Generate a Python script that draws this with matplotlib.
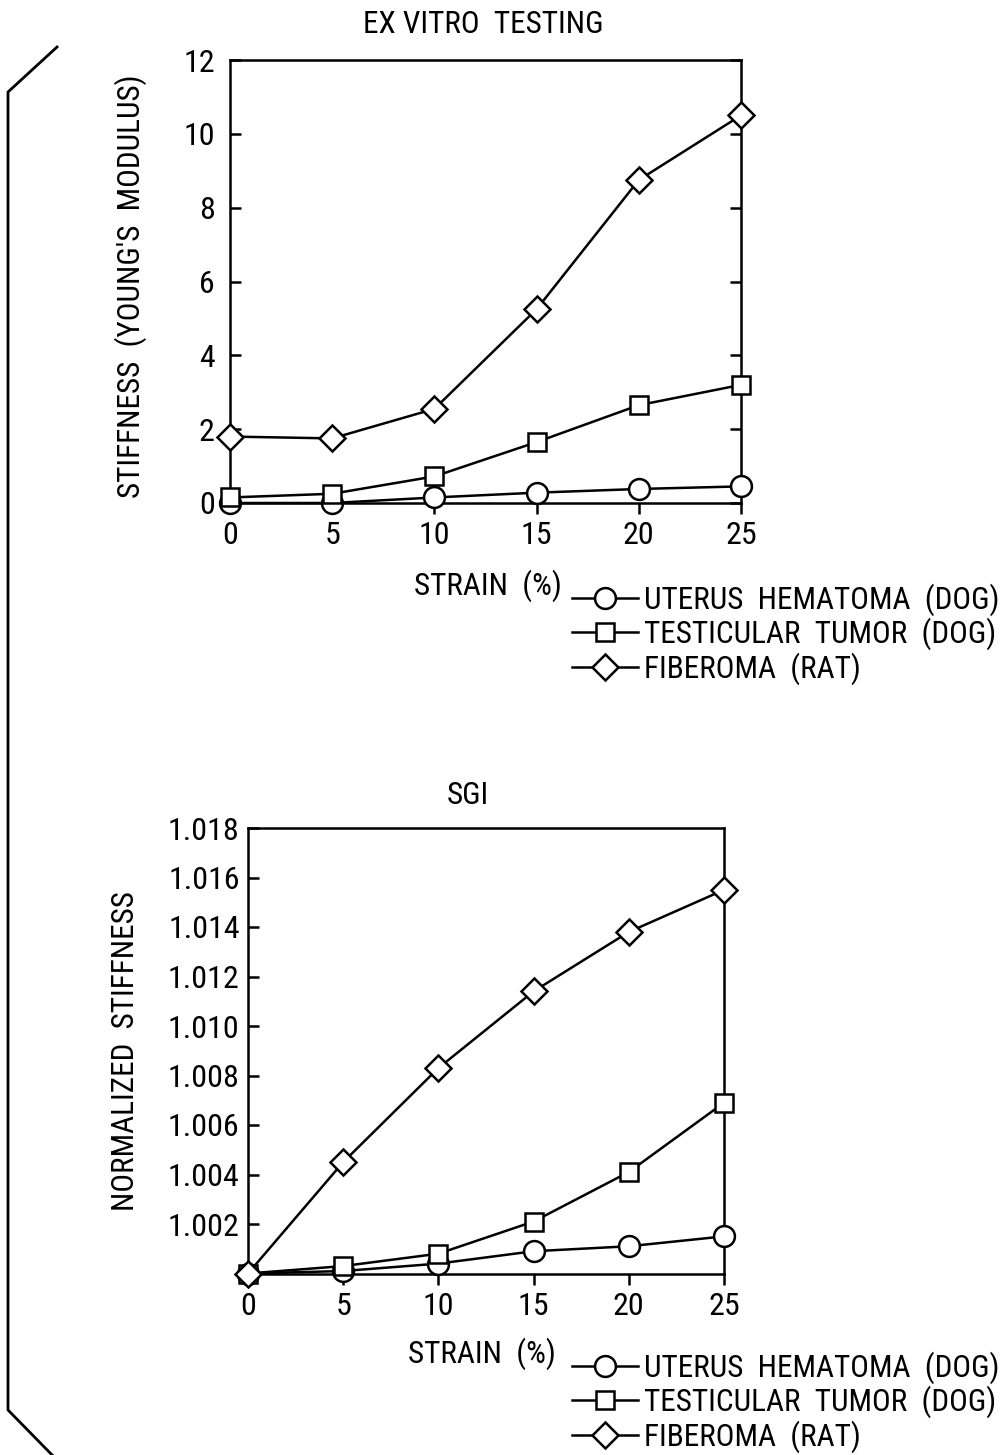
import matplotlib
matplotlib.use('Agg')
import matplotlib.pyplot as plt
from matplotlib import font_manager
from matplotlib.lines import Line2D

strain = [0, 5, 10, 15, 20, 25]
names = ['UTERUS  HEMATOMA  (DOG)', 'TESTICULAR  TUMOR  (DOG)', 'FIBEROMA  (RAT)']

# ex vitro stiffness (young's modulus)
exv_uterus = [0.0, 0.0, 0.15, 0.28, 0.38, 0.45]
exv_testis = [0.15, 0.25, 0.72, 1.65, 2.65, 3.2]
exv_fiber = [1.8, 1.75, 2.55, 5.25, 8.75, 10.5]

# sgi normalized stiffness
sgi_uterus = [1.0, 1.0001, 1.0004, 1.0009, 1.0011, 1.0015]
sgi_testis = [1.0, 1.0003, 1.0008, 1.0021, 1.0041, 1.0069]
sgi_fiber = [1.0, 1.0045, 1.0083, 1.0114, 1.0138, 1.0155]

sgi_ticks = [1.002, 1.004, 1.006, 1.008, 1.010, 1.012, 1.014, 1.016, 1.018]

# narrow sans like the scanned drawing, whatever is installed
have = set(f.name for f in font_manager.fontManager.ttflist)
wanted = ['Roboto Condensed', 'Archivo Narrow', 'PT Sans Narrow', 'Liberation Sans Narrow']
fams = [f for f in wanted if f in have] + ['DejaVu Sans']
plt.rcParams['font.family'] = fams
plt.rcParams['font.size'] = 22.5

W, H = 1004, 1455
fig = plt.figure(figsize=(W / 100.0, H / 100.0), dpi=100)

def px_axes(l, t, r, b):
    return fig.add_axes([l / W, 1 - b / H, (r - l) / W, (b - t) / H])

mk = dict(mfc='white', mec='black', mew=1.8, color='black', lw=1.8, clip_on=False, zorder=5)
styles = [('o', 15), ('s', 13), ('D', 13)]

def draw(ax, series):
    handles = []
    for vals, (m, ms) in zip(series, styles):
        h, = ax.plot(strain, vals, marker=m, ms=ms, **mk)
        handles.append(h)
    for s in ax.spines.values():
        s.set_linewidth(1.8)
    ax.set_xlim(0, 25)
    ax.set_xticks(strain)
    ax.tick_params(axis='x', direction='out', length=8, width=1.8, pad=5, labelsize=23)
    ax.tick_params(axis='y', direction='in', length=8, width=1.8, labelsize=23)
    return handles

def add_legend(ax, handles, y_mid):
    ax.legend(handles, names, loc='center left', bbox_to_anchor=(572 / W, 1 - y_mid / H),
              bbox_transform=fig.transFigure, frameon=False, handlelength=2.1,
              handletextpad=0.22, labelspacing=0.06, borderpad=0, borderaxespad=0)

# top: ex vitro testing
ax1 = px_axes(230, 60, 741, 503)
h1 = draw(ax1, [exv_uterus, exv_testis, exv_fiber])
ax1.set_ylim(0, 12)
ax1.set_yticks([0, 2, 4, 6, 8, 10, 12])
ax1.tick_params(axis='y', right=True, pad=11)
ax1.text(0.495, 1.081, 'EX VITRO  TESTING', transform=ax1.transAxes, ha='center', va='center')
ax1.set_xlabel('STRAIN  (%)')
ax1.xaxis.set_label_coords(0.505, -0.151)
ax1.set_ylabel("STIFFNESS  (YOUNG'S  MODULUS)")
ax1.yaxis.set_label_coords(-0.162, 0.49)
add_legend(ax1, h1, 634)

# bottom: sgi
ax2 = px_axes(248, 828, 724, 1273.5)
h2 = draw(ax2, [sgi_uterus, sgi_testis, sgi_fiber])
ax2.set_ylim(1.0, 1.018)
ax2.set_yticks(sgi_ticks)
ax2.set_yticklabels(['%.3f' % v for v in sgi_ticks])
ax2.tick_params(axis='y', pad=6)
ax2.text(0.462, 1.074, 'SGI', transform=ax2.transAxes, ha='center', va='center')
ax2.set_xlabel('STRAIN  (%)')
ax2.xaxis.set_label_coords(0.492, -0.1425)
ax2.set_ylabel('NORMALIZED  STIFFNESS')
ax2.yaxis.set_label_coords(-0.227, 0.5)
add_legend(ax2, h2, 1402)

# bracket on the left
bx = [57 / W, 8 / W, 8 / W, 57 / W]
by = [1 - 47 / H, 1 - 92 / H, 1 - 1410 / H, 1 - 1460 / H]
fig.add_artist(Line2D(bx, by, transform=fig.transFigure, color='black', lw=2))

plt.savefig('out.png', dpi=100)
